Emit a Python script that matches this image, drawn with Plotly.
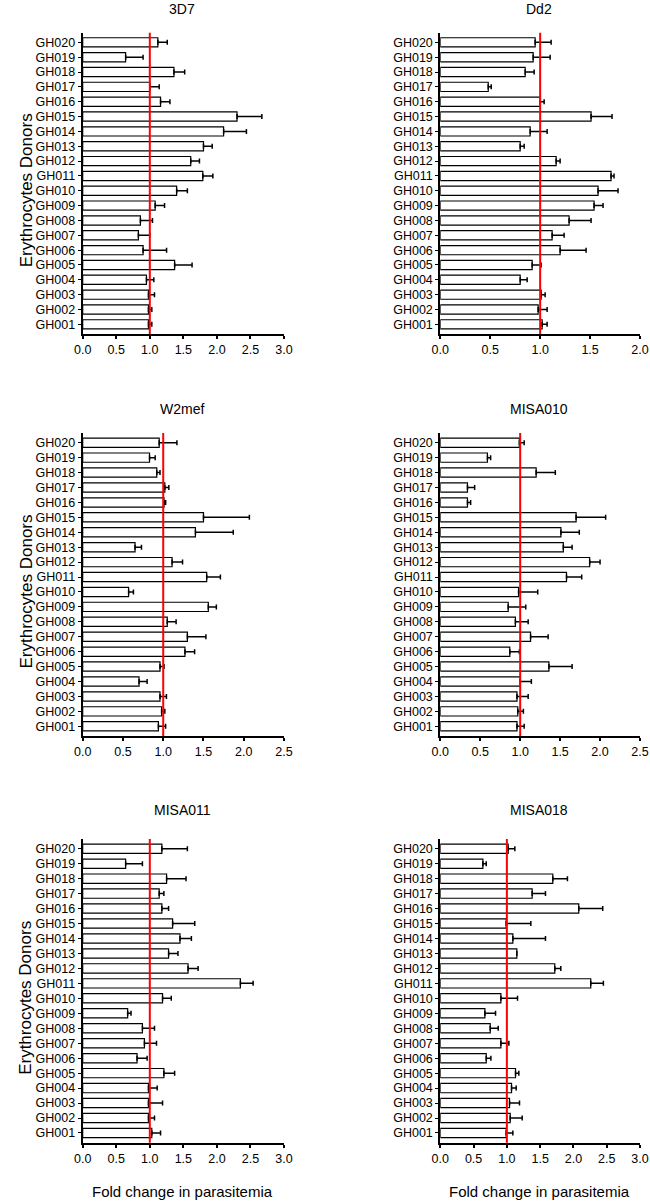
import plotly.graph_objects as go

donors = ["GH001","GH002","GH003","GH004","GH005","GH006","GH007","GH008","GH009","GH010",
          "GH011","GH012","GH013","GH014","GH015","GH016","GH017","GH018","GH019","GH020"]

# values listed GH001 -> GH020
v_3d7 = [0.98,0.98,0.98,0.95,1.37,0.90,0.83,0.86,1.08,1.40,1.79,1.61,1.80,2.10,2.30,1.16,1.00,1.36,0.64,1.12]
e_3d7 = [0.05,0.05,0.09,0.11,0.26,0.35,0.17,0.18,0.14,0.16,0.15,0.13,0.13,0.34,0.37,0.14,0.14,0.16,0.26,0.14]

v_dd2 = [1.02,0.98,1.01,0.80,0.92,1.20,1.12,1.29,1.54,1.58,1.71,1.16,0.80,0.90,1.51,1.00,0.48,0.85,0.93,0.95]
e_dd2 = [0.05,0.09,0.04,0.07,0.09,0.26,0.12,0.22,0.09,0.20,0.03,0.04,0.04,0.17,0.21,0.04,0.03,0.09,0.17,0.16]

v_w2 = [0.94,0.98,0.96,0.70,0.96,1.27,1.30,1.05,1.56,0.57,1.54,1.11,0.65,1.40,1.50,1.01,1.02,0.92,0.83,0.95]
e_w2 = [0.09,0.04,0.08,0.10,0.05,0.12,0.23,0.11,0.10,0.06,0.17,0.13,0.08,0.47,0.57,0.02,0.05,0.04,0.07,0.22]

v_m10 = [0.96,0.97,0.96,1.00,1.36,0.87,1.13,0.94,0.85,0.98,1.58,1.87,1.54,1.51,1.70,0.34,0.34,1.20,0.59,0.99]
e_m10 = [0.09,0.07,0.14,0.14,0.29,0.12,0.22,0.16,0.22,0.24,0.19,0.13,0.11,0.23,0.37,0.04,0.09,0.24,0.04,0.06]

v_m11 = [1.03,0.98,0.98,0.98,1.21,0.81,0.92,0.89,0.67,1.19,2.35,1.57,1.28,1.45,1.34,1.18,1.14,1.25,0.64,1.18]
e_m11 = [0.13,0.09,0.21,0.13,0.16,0.15,0.18,0.18,0.05,0.13,0.19,0.15,0.14,0.17,0.33,0.10,0.07,0.29,0.25,0.38]

v_m18 = [0.99,1.05,1.04,1.07,1.13,0.69,0.91,0.75,0.67,0.91,2.26,1.72,1.15,1.09,0.99,2.08,1.38,1.69,0.64,1.02]
e_m18 = [0.10,0.18,0.15,0.07,0.05,0.07,0.12,0.12,0.16,0.25,0.19,0.09,0.00,0.49,0.37,0.36,0.20,0.22,0.05,0.10]

titles = ["3D7", "Dd2", "W2mef", "MISA010", "MISA011", "MISA018"]
xmax = [3.0, 2.0, 2.5, 2.5, 3.0, 3.0]
vals = [v_3d7, v_dd2, v_w2, v_m10, v_m11, v_m18]
errs = [e_3d7, e_dd2, e_w2, e_m10, e_m11, e_m18]

W, H = 650, 1203
xdoms = [(82.7, 284.0), (440.3, 640.0)]
ydoms = [(32.7, 334.0), (433.0, 736.0), (839.0, 1142.7)]


def px(xp):
    return xp / W


def py(yp):
    return 1 - yp / H


FONT = "Liberation Sans, Arial, sans-serif"
fig = go.Figure()
layout = dict(width=W, height=H, margin=dict(l=0, r=0, t=0, b=0), template="none",
              paper_bgcolor="white", plot_bgcolor="white", showlegend=False,
              font=dict(family=FONT, color="black", size=12), bargap=0.38)
shapes = []
annotations = []

for i in range(6):
    r, c = divmod(i, 2)
    n = i + 1
    xs = "" if n == 1 else str(n)
    fig.add_trace(go.Bar(
        x=vals[i], y=donors, orientation="h",
        marker=dict(color="white", line=dict(color="black", width=1.2)),
        error_x=dict(type="data", array=errs[i], arrayminus=[0] * 20, symmetric=False,
                     color="black", thickness=1.5, width=2.5),
        xaxis="x" + xs, yaxis="y" + xs, hoverinfo="x+y"))
    x0, x1 = xdoms[c]
    ytop, ybot = ydoms[r]
    layout["xaxis" + xs] = dict(
        domain=[px(x0), px(x1)], anchor="y" + xs, range=[0, xmax[i]], dtick=0.5, tick0=0,
        tickformat=".1f", showline=True, linecolor="black", linewidth=2, automargin=False,
        ticks="outside", ticklen=3, tickwidth=1.5, tickcolor="black",
        showgrid=False, zeroline=False, tickfont=dict(size=12.5, family=FONT, color="black"))
    layout["yaxis" + xs] = dict(
        domain=[py(ybot), py(ytop)], anchor="x" + xs, type="category",
        categoryorder="array", categoryarray=donors, range=[-0.65, 19.65],
        tickmode="array", tickvals=donors, ticktext=donors, automargin=False,
        showline=True, linecolor="black", linewidth=2, ticks="outside", ticklen=3,
        tickwidth=1.2, tickcolor="black", showgrid=False, zeroline=False,
        tickfont=dict(size=12.5, family=FONT, color="black"))
    shapes.append(dict(type="line", xref="x" + xs, yref="y" + xs + " domain",
                       x0=1, x1=1, y0=0, y1=1, line=dict(color="#ff0000", width=2)))
    cxp = (x0 + x1) / 2 - 1
    ty = [9, 409, 810][r]
    annotations.append(dict(text=titles[i], xref="paper", yref="paper", x=px(cxp),
                            y=py(ty), showarrow=False, xanchor="center", yanchor="middle",
                            font=dict(size=14, family=FONT, color="black")))
    if c == 0:
        annotations.append(dict(text="Erythrocytes Donors", xref="paper", yref="paper",
                                x=px(26), y=py((ytop + ybot) / 2 + 7), textangle=-90,
                                showarrow=False, xanchor="center", yanchor="middle",
                                font=dict(size=17, family=FONT, color="black")))
    if r == 2:
        annotations.append(dict(text="Fold change in parasitemia", xref="paper", yref="paper",
                                x=px(cxp), y=py(1191), showarrow=False,
                                xanchor="center", yanchor="middle",
                                font=dict(size=15, family=FONT, color="black")))

layout["shapes"] = shapes
layout["annotations"] = annotations
fig.update_layout(**layout)
fig.write_html("out.html", config={"displayModeBar": False},
               post_script="document.body.style.margin='0';document.body.style.padding='0';")
